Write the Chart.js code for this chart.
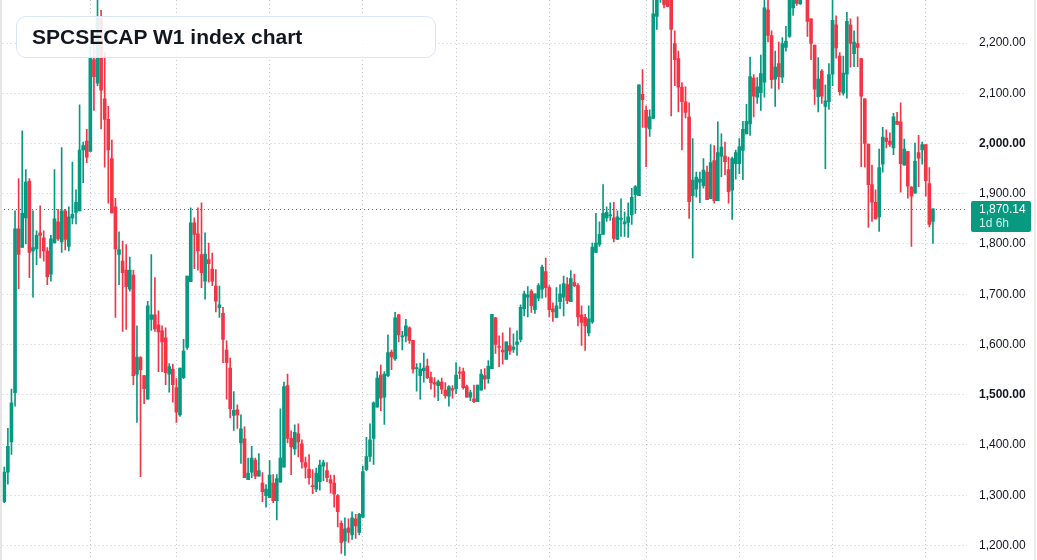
<!DOCTYPE html>
<html>
<head>
<meta charset="utf-8">
<script src="https://cdn.jsdelivr.net/npm/chart.js@4.4.1/dist/chart.umd.min.js"></script>
<style>
  html, body { margin: 0; padding: 0; background: #fff; }
  #wrap { position: relative; width: 1037px; height: 560px; overflow: hidden; }
  #title {
    position: absolute; left: 16px; top: 16px; width: 420px; height: 42px;
    box-sizing: border-box; padding-left: 15px;
    border: 1px solid #d8e5f8; border-radius: 10px;
    background: rgba(255, 255, 255, 0.88);
    font: bold 21px "Liberation Sans", Arial, sans-serif; color: #131722;
    line-height: 40px; z-index: 2;
  }
  .edge { position: absolute; top: 0; height: 560px; width: 2px; background: #e6e6e6; z-index: 3; }
</style>
</head>
<body>
<div id="wrap">
  <canvas id="chart" width="1037" height="560"></canvas>
  <div id="title">SPCSECAP W1 index chart</div>
  <div class="edge" style="left:0"></div>
  <div class="edge" style="left:1034px; background:#ececec"></div>
</div>
<script>
// weekly candles, oldest first
const opens = [1287,1346,1406,1504,1830,1793,1852,1925,1786,1790, 1822,1812,1786,1740,1802,1844,1804,1866,1795,1852,
  1863,1866,1987,2005,1984,2167,2120,2250,2089,2048, 1970,1874,1779,1766,1748,1710,1738,1541,1574,1538,
  1491,1650,1659,1639,1627,1613,1541,1551,1514,1460, 1534,1594,1725,1842,1820,1779,1726,1769,1750,1716,
  1673,1662,1589,1553,1459,1470,1404,1412,1331,1346, 1370,1338,1324,1299,1295,1324,1289,1326,1356,1518,
  1413,1392,1422,1402,1365,1352,1319,1312,1327,1358, 1349,1331,1324,1299,1244,1209,1235,1221,1253,1226,
  1256,1351,1377,1413,1475,1539,1495,1538,1585,1571, 1659,1615,1617,1633,1608,1552,1538,1548,1557,1534,
  1524,1518,1525,1509,1497,1512,1512,1545,1546,1516, 1495,1492,1486,1509,1538,1532,1552,1653,1595,1589,
  1570,1598,1590,1600,1610,1671,1694,1706,1669,1692, 1710,1745,1713,1671,1654,1685,1694,1719,1685,1723,
  1717,1659,1654,1623,1645,1783,1799,1819,1852,1856, 1852,1809,1849,1840,1843,1858,1898,1896,2098,2066,
  2029,2050,2253,2290,2300,2290,2290,2199,2169,2112, 2083,2053,1896,1909,1923,1916,1943,1890,1966,1886,
  1975,1975,1948,1907,1960,1960,1986,2019,2039,2130, 2092,2101,2122,2266,2215,2128,2159,2132,2191,2213,
  2270,2310,2278,2300,2300,2248,2196,2093,2144,2074, 2083,2138,2236,2174,2100,2138,2236,2179,2199,2169,
  2089,1999,1918,1883,1854,1959,2011,2005,1991,2044, 2043,1957,1984,1913,1901,1982,1987,1998,1920,1845];

const highs = [1356,1433,1511,1866,1930,2025,1948,1930,1866,1826, 1876,1826,1793,1817,1948,1869,1992,1869,1874,1963,
  1908,2077,2003,2028,2194,2200,2300,2265,2181,2074, 2007,1891,1824,1806,1799,1774,1748,1637,1576,1538,
  1686,1779,1733,1667,1637,1633,1562,1561,1532,1553, 1610,1736,1872,1852,1872,1882,1822,1802,1782,1749,
  1716,1674,1607,1573,1506,1480,1460,1436,1374,1397, 1374,1383,1345,1321,1369,1341,1341,1472,1525,1541,
  1428,1440,1442,1410,1376,1381,1351,1354,1370,1370, 1365,1340,1340,1301,1249,1255,1253,1267,1262,1264,
  1358,1415,1442,1486,1546,1559,1546,1619,1589,1664, 1660,1626,1650,1635,1608,1562,1563,1583,1571,1545,
  1534,1529,1533,1524,1518,1518,1564,1555,1553,1519, 1509,1519,1519,1550,1552,1568,1660,1654,1617,1623,
  1605,1633,1621,1627,1679,1706,1715,1709,1701,1721, 1758,1772,1717,1683,1713,1719,1736,1733,1747,1740,
  1721,1677,1660,1677,1802,1861,1844,1918,1874,1882, 1883,1866,1890,1864,1882,1911,1916,2117,2147,2075,
  2067,2290,2310,2330,2320,2310,2300,2224,2184,2121, 2113,2081,2010,1943,1943,1970,1955,1998,1996,2043,
  2019,2003,1973,1973,1987,2010,2044,2078,2172,2137, 2131,2176,2290,2295,2224,2184,2202,2211,2233,2300,
  2320,2320,2310,2340,2320,2248,2196,2171,2147,2117, 2159,2295,2254,2181,2174,2261,2248,2224,2252,2169,
  2089,1999,1957,1908,1989,2032,2027,2021,2060,2062, 2081,2009,1985,1914,2001,2016,2003,1998,1952,1870.14];

const lows = [1285,1322,1381,1477,1711,1793,1800,1733,1694,1759, 1772,1766,1719,1726,1802,1807,1783,1788,1786,1840,
  1840,1866,1922,1962,1984,2066,2115,2029,1953,1881, 1862,1654,1719,1626,1630,1706,1520,1445,1337,1482,
  1491,1628,1626,1546,1546,1520,1505,1485,1445,1457, 1532,1590,1725,1751,1748,1713,1690,1724,1717,1665,
  1654,1564,1491,1454,1429,1433,1363,1335,1331,1335, 1333,1338,1287,1276,1295,1285,1251,1326,1356,1404,
  1341,1381,1376,1354,1334,1322,1303,1307,1310,1329, 1327,1304,1276,1237,1184,1180,1206,1212,1214,1221,
  1255,1349,1367,1361,1475,1468,1441,1536,1550,1568, 1605,1589,1605,1602,1543,1507,1491,1525,1532,1511,
  1495,1488,1502,1493,1477,1493,1502,1532,1511,1495, 1488,1484,1486,1509,1511,1523,1552,1582,1556,1561,
  1570,1580,1584,1578,1605,1657,1655,1664,1662,1687, 1692,1694,1655,1646,1653,1671,1657,1681,1685,1715,
  1637,1598,1588,1617,1642,1783,1795,1819,1845,1847, 1804,1809,1815,1815,1813,1839,1861,1896,2032,1954,
  2014,2050,2227,2281,2270,2272,2055,2115,2063,1987, 2051,1851,1772,1893,1882,1911,1888,1890,1881,1886,
  1934,1938,1881,1849,1929,1940,1928,2019,2016,2053, 2080,2066,2092,2202,2110,2074,2108,2121,2184,2211,
  2255,2275,2277,2290,2213,2167,2078,2063,2080,1950, 2068,2115,2170,2096,2096,2090,2152,2153,2153,1954,
  1953,1833,1845,1850,1825,1943,1991,1994,1978,2038, 1903,1957,1891,1795,1901,1914,1959,1895,1834,1801];

const closes = [1346,1397,1484,1830,1779,1861,1923,1783,1793,1817, 1817,1786,1735,1810,1850,1810,1866,1809,1854,1859,
  1883,1987,1996,1973,2170,2133,2250,2106,2048,1987, 1862,1790,1789,1743,1715,1748,1538,1575,1550,1512,
  1677,1659,1631,1625,1605,1544,1556,1520,1465,1553, 1587,1736,1842,1819,1786,1743,1780,1761,1726,1686,
  1679,1610,1564,1472,1469,1460,1432,1335,1344,1374, 1338,1349,1307,1312,1340,1289,1333,1374,1516,1413,
  1396,1425,1406,1366,1356,1335,1317,1344,1360,1365, 1335,1324,1302,1267,1206,1233,1226,1255,1239,1262,
  1347,1377,1410,1484,1533,1493,1541,1584,1575,1653, 1619,1616,1637,1608,1551,1553,1551,1553,1534,1524,
  1521,1526,1511,1498,1516,1509,1539,1543,1514,1495, 1504,1486,1519,1541,1531,1557,1660,1600,1594,1585,
  1605,1587,1595,1605,1674,1701,1699,1677,1701,1717, 1754,1713,1669,1665,1677,1701,1721,1687,1731,1717,
  1655,1644,1637,1651,1794,1802,1819,1861,1863,1858, 1811,1854,1850,1844,1854,1893,1914,2117,2087,2032,
  2053,2258,2300,2310,2277,2273,2227,2167,2112,2083, 2062,1884,1927,1933,1929,1947,1888,1962,1886,1982,
  1993,1964,1904,1970,1982,1994,2028,2044,2133,2094, 2113,2139,2270,2215,2127,2152,2133,2199,2204,2295,
  2300,2279,2295,2320,2243,2199,2108,2128,2094,2085, 2137,2245,2190,2103,2140,2243,2199,2202,2191,2094,
  2000,1918,1883,1850,1952,2013,2004,1998,2053,2038, 1960,1989,1915,1895,1965,1971,1998,1926,1839,1870.14];

// 260 weeks plus some empty room on the right
const weeks = Array.from({ length: 269 }, (_, i) => 'W' + (i + 1));
const gridWeeks = [24, 48, 74, 100, 126, 152, 179, 205, 231, 257];
const yTicks = [1200, 1300, 1400, 1500, 1600, 1700, 1800, 1900, 2000, 2100, 2200];
const boldTicks = [1500, 2000];
const lastPrice = 1870.14;
const countdown = '1d 6h';

const UP = '#089981';
const DOWN = '#F23645';
const GRID = 'rgba(0, 0, 0, 0.22)';
const FONT = "'Liberation Sans', Arial, sans-serif";

Chart.defaults.font.family = FONT;

const candleColors = opens.map((o, i) => closes[i] >= o ? UP : DOWN);

const lastPricePlugin = {
    id: 'lastPrice',
    beforeDatasetsDraw(chart) {
        const { ctx, chartArea, scales: { y } } = chart;
        const py = Math.round(y.getPixelForValue(lastPrice)) + 0.5;
        ctx.save();
        ctx.strokeStyle = UP;
        ctx.lineWidth = 1;
        ctx.setLineDash([1, 3]);
        ctx.beginPath();
        ctx.moveTo(0, py);
        ctx.lineTo(chartArea.right, py);
        ctx.stroke();
        ctx.restore();
    },
    afterDraw(chart) {
        const { ctx, chartArea, scales: { y } } = chart;
        const py = Math.round(y.getPixelForValue(lastPrice));
        const x = chartArea.right + 4;
        ctx.save();
        ctx.fillStyle = UP;
        ctx.beginPath();
        ctx.roundRect(x, py - 8, 60, 31, 2);
        ctx.fill();
        ctx.font = '12px ' + FONT;
        ctx.textBaseline = 'middle';
        ctx.fillStyle = '#ffffff';
        ctx.fillText(lastPrice.toLocaleString('en-US', { minimumFractionDigits: 2 }), x + 8, py + 0.5);
        ctx.fillStyle = 'rgba(255,255,255,0.82)';
        ctx.fillText(countdown, x + 8, py + 14.5);
        ctx.restore();
    }
};

new Chart(document.getElementById('chart'), {
    type: 'bar',
    data: {
        labels: weeks,
        datasets: [
            {
                // wicks
                data: highs.map((h, i) => [lows[i], h]),
                backgroundColor: candleColors,
                barThickness: 1,
                grouped: false,
                borderWidth: 0
            },
            {
                // bodies
                data: opens.map((o, i) => [o, closes[i]]),
                backgroundColor: candleColors,
                barThickness: 3,
                minBarLength: 1,
                grouped: false,
                borderWidth: 0
            }
        ]
    },
    options: {
        responsive: false,
        animation: false,
        layout: { padding: { left: 2.5, right: 0, top: 0, bottom: 0 } },
        plugins: {
            legend: { display: false },
            tooltip: { enabled: false }
        },
        scales: {
            x: {
                offset: true,
                ticks: { display: false, autoSkip: false },
                grid: {
                    offset: false,
                    drawTicks: false,
                    color: (c) => gridWeeks.includes(c.index) ? GRID : 'rgba(0,0,0,0)'
                },
                border: { display: false, dash: [1, 3] }
            },
            y: {
                position: 'right',
                min: 1171,
                max: 2285.6,
                bounds: 'data',
                afterBuildTicks: (s) => { s.ticks = yTicks.map(v => ({ value: v })); },
                afterFit: (s) => { s.width = 70; s.paddingTop = 0; s.paddingBottom = 0; },
                ticks: {
                    padding: 12,
                    color: '#131722',
                    font: (c) => ({ size: 12, family: FONT, weight: c.tick && boldTicks.includes(c.tick.value) ? 'bold' : 'normal' }),
                    callback: (v) => v.toLocaleString('en-US', { minimumFractionDigits: 2, maximumFractionDigits: 2 })
                },
                grid: { drawTicks: false, color: GRID },
                border: { display: false, dash: [1, 3] }
            }
        }
    },
    plugins: [lastPricePlugin]
});
</script>
</body>
</html>
